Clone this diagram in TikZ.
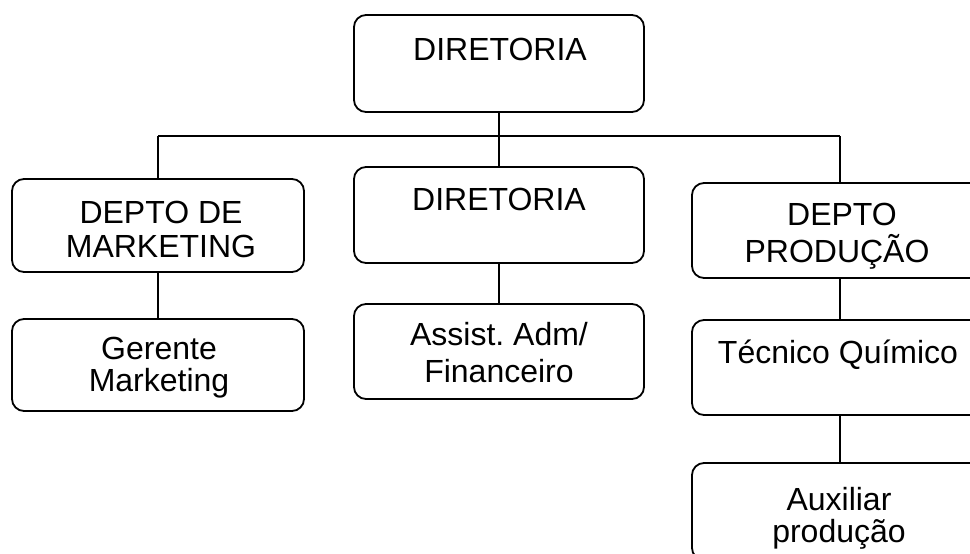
\documentclass[tikz,border=0pt]{standalone}
\usepackage{fontspec}
\setmainfont{Liberation Sans}
\frenchspacing
\begin{document}
\begin{tikzpicture}[x=1pt,y=-1pt,
  box/.style={draw=black, line width=1.8pt, rounded corners=12pt, rectangle, inner sep=0pt},
  lbl/.style={anchor=base, inner sep=0pt, font=\fontsize{32}{35}\selectfont},
  conn/.style={draw=black, line width=1.9pt}]
\useasboundingbox (0,0) rectangle (970,554);
\clip (0,0) rectangle (970,554);
% boxes
\node[box, minimum width=290pt, minimum height=97pt] (top) at (499,63.5) {};
\node[box, minimum width=292pt, minimum height=93pt] (mkt) at (158,225.5) {};
\node[box, minimum width=292pt, minimum height=92pt] (ger) at (158,365) {};
\node[box, minimum width=290pt, minimum height=96pt] (dir) at (499,215) {};
\node[box, minimum width=290pt, minimum height=95pt] (ass) at (499,351.5) {};
\node[box, minimum width=296pt, minimum height=95pt] (prod) at (840,230.5) {};
\node[box, minimum width=296pt, minimum height=95pt] (tec) at (840,367.5) {};
\node[box, minimum width=296pt, minimum height=97pt] (aux) at (840,511.5) {};
% labels
\node[lbl] (topT) at (500,60) {DIRETORIA};
\node[lbl] (mktA) at (161,223) {DEPTO DE};
\node[lbl] (mktB) at (161,257) {MARKETING};
\node[lbl] (gerA) at (159,359) {Gerente};
\node[lbl] (gerB) at (159,391) {Marketing};
\node[lbl] (dirT) at (499,210) {DIRETORIA};
\node[lbl] (assA) at (499,345) {Assist. Adm/};
\node[lbl] (assB) at (499,382) {Financeiro};
\node[lbl] (prodA) at (842,225) {DEPTO};
\node[lbl] (prodB) at (837,262) {PRODUÇÃO};
\node[lbl] (tecT) at (838,363) {Técnico Químico};
\node[lbl] (auxA) at (839,510) {Auxiliar};
\node[lbl] (auxB) at (839,542) {produção};
% connectors
\coordinate (busL) at (mkt.north |- 0,136);
\coordinate (busR) at (prod.north |- 0,136);
\draw[conn] (busL) -- (busR);
\draw[conn] (top.south) -- (dir.north);
\draw[conn] (busL) -- (mkt.north);
\draw[conn] (busR) -- (prod.north);
\draw[conn] (mkt.south) -- (ger.north);
\draw[conn] (dir.south) -- (ass.north);
\draw[conn] (prod.south) -- (tec.north);
\draw[conn] (tec.south) -- (aux.north);
\end{tikzpicture}
\end{document}
